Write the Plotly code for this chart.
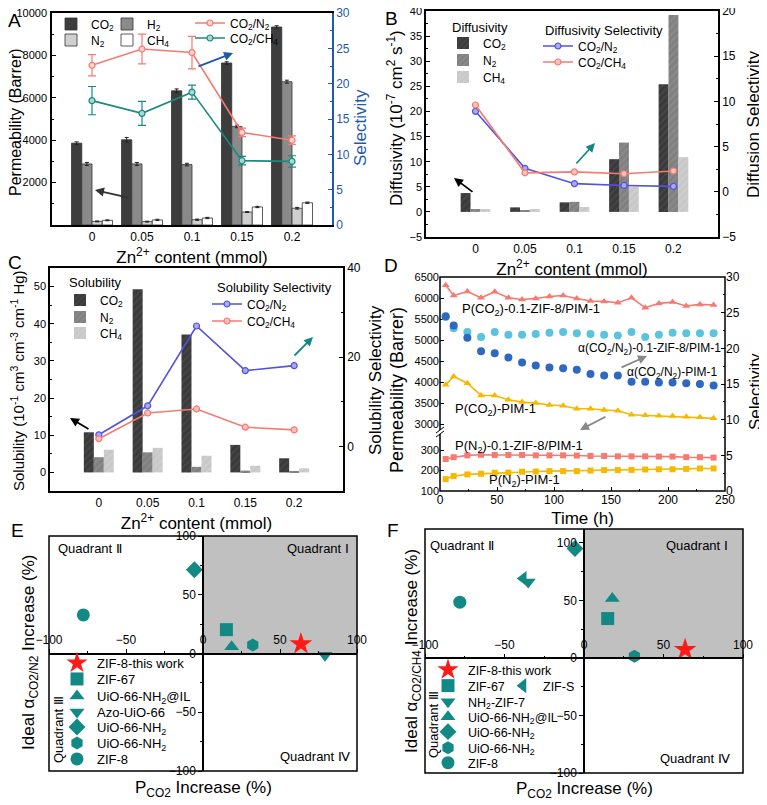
import plotly.graph_objects as go

# target canvas is 767x805; the page body adds an 8 px margin, so the figure
# itself is 8 px smaller and every pixel position is shifted by that margin
W, H = 767, 805
PAD = 8
FW, FH = W - PAD, H - PAD
FONT = "Arial, Liberation Sans, sans-serif"


def fx(px):
    return (px - PAD) / FW


def fy(py):
    return 1 - (py - PAD) / FH


# ---------------- data ----------------
zn = ["0", "0.05", "0.1", "0.15", "0.2"]

# A: permeability (Barrer) and ideal selectivity
perm_co2 = [3860, 4020, 6330, 7640, 9340]
perm_h2 = [2880, 2880, 2850, 4650, 6760]
perm_n2 = [170, 160, 250, 610, 790]
perm_ch4 = [220, 240, 330, 850, 1050]
perm_co2_err = [60, 110, 90, 60, 60]
perm_h2_err = [70, 70, 60, 60, 70]
perm_n2_err = [20, 20, 30, 20, 40]
perm_ch4_err = [20, 30, 30, 30, 30]
sel_co2_n2 = [22.6, 24.9, 24.4, 13.1, 12.0]
sel_co2_n2_err = [1.5, 2.1, 2.3, 0.6, 0.6]
sel_co2_ch4 = [17.6, 15.8, 18.8, 9.1, 9.0]
sel_co2_ch4_err = [2.0, 1.7, 1.0, 0.6, 0.8]

# B: diffusivity and diffusion selectivity
dif_co2 = [3.75, 0.9, 1.9, 10.5, 25.4]
dif_n2 = [0.57, 0.3, 2.0, 13.8, 39.2]
dif_ch4 = [0.57, 0.57, 0.97, 5.0, 10.9]
dsel_co2_n2 = [8.9, 2.6, 0.9, 0.7, 0.6]
dsel_co2_ch4 = [9.6, 2.1, 2.2, 2.0, 2.3]

# C: solubility and solubility selectivity
sol_co2 = [10.8, 49.3, 37.1, 7.4, 3.8]
sol_n2 = [4.1, 5.4, 1.5, 0.5, 0.4]
sol_ch4 = [6.1, 6.6, 4.5, 1.8, 1.1]
ssel_co2_n2 = [2.6, 9.1, 27.0, 17.0, 18.1]
ssel_co2_ch4 = [1.7, 7.5, 8.4, 4.3, 3.7]

# D: long-term test
hours = [5, 12, 24, 36, 48, 60, 72, 84, 96, 108, 120, 132, 144, 156, 168, 180, 192, 204, 216, 228, 240]
p_co2_zif = [6304, 6060, 6154, 6005, 6147, 6005, 5966, 5990, 6037, 6060, 5990,
             5927, 5919, 5888, 6005, 5770, 5872, 5903, 5809, 5848, 5833]
p_co2_pim = [3933, 4130, 3972, 3680, 3680, 3577, 3522, 3498, 3451, 3435, 3364,
             3364, 3332, 3317, 3222, 3207, 3199, 3191, 3175, 3159, 3135]
p_n2_zif = [256, 265, 274, 277, 276, 276, 276, 274, 274, 274, 273,
            271, 271, 269, 269, 269, 268, 268, 265, 265, 263]
p_n2_pim = [158, 173, 181, 184, 189, 190, 194, 195, 197, 197, 197,
            200, 202, 202, 203, 205, 206, 206, 208, 210, 210]
a_zif = [24.4, 22.8, 22.3, 21.6, 22.3, 21.9, 21.9, 22.0, 22.2, 22.3, 22.1,
         22.0, 21.9, 21.8, 22.3, 21.6, 21.9, 22.2, 22.1, 22.1, 22.1]
a_pim = [24.5, 23.2, 21.5, 19.6, 19.3, 18.7, 18.0, 17.6, 17.3, 17.2, 17.0,
         16.4, 16.2, 16.2, 15.3, 15.3, 15.2, 15.2, 15.1, 15.0, 14.8]

# E / F: quadrant comparison
e_names = ["ZIF-8-this work", "ZIF-67", "UiO-66-NH<sub>2</sub>@IL", "Azo-UiO-66",
           "UiO-66-NH<sub>2</sub>", "UiO-66-NH<sub>2</sub>", "ZIF-8"]
e_symbols = ["star", "square", "triangle-up", "triangle-down", "diamond", "hexagon", "circle"]
e_p = [63.6, 15.2, 18.6, 79.2, -5.6, 32.3, -77.7]
e_a = [8.1, 20.3, 5.8, -1.5, 71.3, 7.2, 32.8]

f_names = ["ZIF-8-this work", "ZIF-67", "ZIF-S", "NH<sub>2</sub>-ZIF-7", "UiO-66-NH<sub>2</sub>@IL",
           "UiO-66-NH<sub>2</sub>", "UiO-66-NH<sub>2</sub>", "ZIF-8"]
f_symbols = ["star", "square", "triangle-left", "triangle-down", "triangle-up", "diamond", "hexagon", "circle"]
f_p = [63.6, 14.9, -38.2, -35.1, 17.8, -5.7, 31.7, -78.1]
f_a = [7.2, 34.2, 69.0, 66.0, 51.6, 95.0, 1.4, 48.4]

# ---------------- styling ----------------
RED = "#f47a72"
TEAL = "#1a8a80"
BLUE_AX = "#1f5aa6"
BLUE = "#5252e0"
MTEAL = "#138985"
GOLD = "#f6b800"
DBLUE = "#2e68c0"
CYAN = "#5cc3de"

fig = go.Figure()
legends = {}


def leg(mx, my, size=12):
    name = "legend" if not legends else f"legend{len(legends) + 1}"
    legends[name] = dict(
        x=fx(mx - 20), y=fy(my), xanchor="left", yanchor="middle",
        bgcolor="rgba(0,0,0,0)", borderwidth=0,
        font=dict(size=size, family=FONT, color="black"),
    )
    return name


def bar(x, y, name, color, xa, ya, width, offset, err=None, hatch=None, lx=0, ly=0):
    marker = dict(color=color, line=dict(color="#333333", width=0.8))
    if hatch:
        marker = dict(color=color, line=dict(width=0),
                      pattern=dict(shape="/", fgcolor=hatch, size=5, solidity=0.3))
    fig.add_trace(go.Bar(
        x=x, y=y, name=name, marker=marker, xaxis=xa, yaxis=ya,
        width=width, offset=offset, legend=leg(lx, ly),
        error_y=dict(type="data", array=err, color="#222222", thickness=1, width=2) if err else None,
    ))


def line(x, y, name, color, xa, ya, fill, lx, ly, err=None):
    fig.add_trace(go.Scatter(
        x=x, y=y, name=name, mode="lines+markers", xaxis=xa, yaxis=ya,
        line=dict(color=color, width=1.6),
        marker=dict(symbol="circle", size=6, color=fill, line=dict(color=color, width=1.2)),
        legend=leg(lx, ly),
        error_y=dict(type="data", array=err, color=color, thickness=1.2, width=4) if err else None,
    ))


# ---- A ----
bw_a = 0.205
bar(zn, perm_co2, "CO<sub>2</sub>", "#3d3d3d", "x", "y", bw_a, -2 * bw_a, perm_co2_err, lx=71, ly=24)
bar(zn, perm_h2, "H<sub>2</sub>", "#8a8a8a", "x", "y", bw_a, -bw_a, perm_h2_err, lx=127, ly=24)
bar(zn, perm_n2, "N<sub>2</sub>", "#cfcfcf", "x", "y", bw_a, 0, perm_n2_err, lx=71, ly=40)
bar(zn, perm_ch4, "CH<sub>4</sub>", "#ffffff", "x", "y", bw_a, bw_a, perm_ch4_err, lx=127, ly=40)
line(zn, sel_co2_n2, "CO<sub>2</sub>/N<sub>2</sub>", RED, "x", "y2", "#fbd3cf", 210, 23, sel_co2_n2_err)
line(zn, sel_co2_ch4, "CO<sub>2</sub>/CH<sub>4</sub>", TEAL, "x", "y2", "#a8d8d2", 210, 38, sel_co2_ch4_err)

# ---- B ----
bw_b = 0.2
bar(zn, dif_co2, "CO<sub>2</sub>", "#3a3a3a", "x2", "y3", bw_b, -1.5 * bw_b, hatch="#555555", lx=463, ly=43)
bar(zn, dif_n2, "N<sub>2</sub>", "#808080", "x2", "y3", bw_b, -0.5 * bw_b, hatch="#999999", lx=463, ly=60)
bar(zn, dif_ch4, "CH<sub>4</sub>", "#c8c8c8", "x2", "y3", bw_b, 0.5 * bw_b, hatch="#d8d8d8", lx=463, ly=77)
line(zn, dsel_co2_n2, "CO<sub>2</sub>/N<sub>2</sub>", BLUE, "x2", "y4", "#a9a9f2", 558, 46)
line(zn, dsel_co2_ch4, "CO<sub>2</sub>/CH<sub>4</sub>", RED, "x2", "y4", "#fbc0bb", 558, 62)

# ---- C ----
bw_c = 0.205
bar(zn, sol_co2, "CO<sub>2</sub>", "#3a3a3a", "x3", "y5", bw_c, -1.5 * bw_c, hatch="#555555", lx=80, ly=300)
bar(zn, sol_n2, "N<sub>2</sub>", "#808080", "x3", "y5", bw_c, -0.5 * bw_c, hatch="#999999", lx=80, ly=317)
bar(zn, sol_ch4, "CH<sub>4</sub>", "#c8c8c8", "x3", "y5", bw_c, 0.5 * bw_c, hatch="#d8d8d8", lx=80, ly=333)
line(zn, ssel_co2_n2, "CO<sub>2</sub>/N<sub>2</sub>", BLUE, "x3", "y6", "#a9a9f2", 227, 304)
line(zn, ssel_co2_ch4, "CO<sub>2</sub>/CH<sub>4</sub>", RED, "x3", "y6", "#fbc0bb", 227, 321)


# ---- D ----
def dtrace(y, color, symbol, ya, mode="lines+markers", size=6):
    fig.add_trace(go.Scatter(
        x=hours, y=y, mode=mode, xaxis="x4", yaxis=ya, showlegend=False,
        line=dict(color=color, width=1.6),
        marker=dict(symbol=symbol, size=size, color=color),
    ))


dtrace(p_co2_zif, RED, "triangle-up", "y8", size=7)
dtrace(p_co2_pim, GOLD, "triangle-up", "y8", size=7)
dtrace(p_n2_zif, RED, "square", "y7")
dtrace(p_n2_pim, GOLD, "square", "y7")
dtrace(a_zif, CYAN, "circle", "y9", mode="markers", size=8)
dtrace(a_pim, DBLUE, "circle", "y9", mode="markers", size=8)

# ---- E / F ----
e_pos = [(77, 663), (77, 679), (77, 696), (77, 712), (77, 727), (77, 743), (77, 759)]
for name, sym, xv, yv, (lx, ly) in zip(e_names, e_symbols, e_p, e_a, e_pos):
    red = sym == "star"
    fig.add_trace(go.Scatter(
        x=[xv], y=[yv], name=name, mode="markers", xaxis="x5", yaxis="y10",
        marker=dict(symbol=sym, size=17 if red else 13, color="#ff1a1a" if red else MTEAL),
        legend=leg(lx, ly, 13),
    ))

f_pos = [(448, 670), (448, 686), (523, 686), (448, 702), (448, 717), (448, 732), (448, 748), (448, 763)]
for name, sym, xv, yv, (lx, ly) in zip(f_names, f_symbols, f_p, f_a, f_pos):
    red = sym == "star"
    fig.add_trace(go.Scatter(
        x=[xv], y=[yv], name=name, mode="markers", xaxis="x6", yaxis="y11",
        marker=dict(symbol=sym, size=17 if red else 13, color="#ff1a1a" if red else MTEAL),
        legend=leg(lx, ly, 12.5),
    ))

# ---------------- axes ----------------
tick_font = dict(size=12, family=FONT, color="black")
left_font = dict(size=11, family=FONT, color="black")
title_font = dict(size=17, family=FONT, color="black")
base = dict(showgrid=False, zeroline=False, showline=True, linecolor="black", linewidth=1.5,
            ticks="inside", ticklen=4, tickcolor="black", tickfont=tick_font, automargin=False,
            ticklabeloverflow="allow")
cat_x = dict(base, type="category", ticks="", mirror=True,
             title=dict(text="Zn<sup>2+</sup> content (mmol)", font=title_font, standoff=8))


def minor(step, color="black"):
    return dict(ticks="inside", ticklen=2, dtick=step, tickcolor=color)


fig.update_layout(
    xaxis=dict(cat_x, domain=[fx(52), fx(332)], anchor="y", range=[-0.8, 4.8]),
    yaxis=dict(base, domain=[fy(225), fy(13)], anchor="x", range=[0, 10000],
               tickvals=[2000, 4000, 6000, 8000, 10000], ticktext=["2000", "4000", "6000", "8000", "10000"],
               tickfont=left_font, ticklabelstandoff=1, minor=minor(1000)),
    yaxis2=dict(base, overlaying="y", anchor="x", side="right", range=[0, 30], dtick=5,
                linecolor=BLUE_AX, tickcolor=BLUE_AX, tickfont=dict(tick_font, color=BLUE_AX),
                minor=minor(2.5, BLUE_AX)),

    xaxis2=dict(cat_x, domain=[fx(426), fx(718)], anchor="y3", range=[-1, 4.9]),
    yaxis3=dict(base, domain=[fy(237), fy(11)], anchor="x2", range=[-5, 40], dtick=5,
                tickfont=left_font, minor=minor(2.5)),
    yaxis4=dict(base, overlaying="y3", anchor="x2", side="right", range=[-5, 20], dtick=5,
                minor=minor(2.5)),

    xaxis3=dict(cat_x, domain=[fx(50), fx(343)], anchor="y5", range=[-1, 5]),
    yaxis5=dict(base, domain=[fy(491), fy(268)], anchor="x3", range=[-5, 55], dtick=10,
                tickfont=left_font, minor=minor(5)),
    yaxis6=dict(base, overlaying="y5", anchor="x3", side="right", range=[-10, 40],
                tickvals=[0, 20, 40], minor=minor(10)),

    xaxis4=dict(base, domain=[fx(440), fx(725)], anchor="y7", range=[0, 250], dtick=50,
                showline=False, minor=minor(25),
                title=dict(text="Time (h)", font=title_font, standoff=6)),
    yaxis7=dict(base, domain=[fy(491), fy(432)], anchor="x4", range=[100, 388],
                tickvals=[100, 200, 300], showline=False, tickfont=left_font),
    yaxis8=dict(base, domain=[fy(432), fy(277)], anchor="x4", range=[2810, 6500],
                tickvals=[3000, 3500, 4000, 4500, 5000, 5500, 6000, 6500], showline=False,
                tickfont=left_font),
    yaxis9=dict(base, domain=[fy(491), fy(277)], anchor="x4", side="right", range=[0, 30],
                dtick=5, showline=False, minor=minor(2.5)),
)

quad = dict(base, ticks="outside", ticklen=4, linewidth=1.5, dtick=50,
            minor=dict(ticks="outside", ticklen=2, dtick=25, tickcolor="black"))
fig.update_layout(
    xaxis5=dict(quad, domain=[fx(49), fx(357)], anchor="free", position=fy(653.5),
                side="top", range=[-100, 100]),
    yaxis10=dict(quad, domain=[fy(771), fy(536)], anchor="free", position=fx(203),
                 range=[-100, 100]),
    xaxis6=dict(quad, domain=[fx(425), fx(743)], anchor="free", position=fy(658.3),
                side="top", range=[-100, 100]),
    yaxis11=dict(quad, domain=[fy(773), fy(529)], anchor="free", position=fx(584),
                 range=[-100, 112], tickvals=[-100, -50, 0, 50, 100]),
)

# ---------------- shapes ----------------
shapes = [
    dict(type="rect", xref="x5", yref="y10", x0=0, x1=100, y0=0, y1=100,
         fillcolor="#c0c0c0", line=dict(width=0), layer="below"),
    dict(type="rect", xref="x6", yref="y11", x0=0, x1=100, y0=0, y1=112,
         fillcolor="#c0c0c0", line=dict(width=0), layer="below"),
    dict(type="rect", xref="x5 domain", yref="y10 domain", x0=0, x1=1, y0=0, y1=1,
         line=dict(color="black", width=1.5)),
    dict(type="rect", xref="x6 domain", yref="y11 domain", x0=0, x1=1, y0=0, y1=1,
         line=dict(color="black", width=1.5)),
    dict(type="rect", xref="x4 domain", yref="y9 domain", x0=0, x1=1, y0=0, y1=1,
         line=dict(color="black", width=1.5)),
    # axis break on D
    dict(type="rect", xref="paper", yref="paper", x0=fx(437), x1=fx(443), y0=fy(434), y1=fy(430),
         fillcolor="white", line=dict(width=0)),
    dict(type="line", xref="paper", yref="paper", x0=fx(436), x1=fx(444), y0=fy(437), y1=fy(431),
         line=dict(color="black", width=1)),
    dict(type="line", xref="paper", yref="paper", x0=fx(436), x1=fx(444), y0=fy(433), y1=fy(427),
         line=dict(color="black", width=1)),
]

# ---------------- annotations ----------------
ann = []


def text(t, px, py, size=13, angle=0, anchor="center", color="black"):
    ann.append(dict(text=t, x=fx(px), y=fy(py), xref="paper", yref="paper", showarrow=False,
                    xanchor=anchor, yanchor="middle", textangle=angle,
                    font=dict(size=size, family=FONT, color=color)))


def arrow(hx, hy, ax, ay, color):
    ann.append(dict(text="", x=fx(hx), y=fy(hy), xref="paper", yref="paper", showarrow=True,
                    ax=ax, ay=ay, arrowhead=2, arrowsize=1, arrowwidth=1.8, arrowcolor=color))


for letter, px, py in [("A", 14, 20), ("B", 391, 19), ("C", 15, 263), ("D", 391, 265),
                       ("E", 17, 530), ("F", 393, 530)]:
    text(letter, px, py, size=19)

# y-axis titles
text("Permeability (Barrer)", 15, 122, size=16, angle=-90)
text("Selectivity", 361, 128, size=17, angle=-90, color=BLUE_AX)
text("Diffusivity (10<sup>-7</sup> cm<sup>2</sup> s<sup>-1</sup>)", 395, 118, size=17, angle=-90)
text("Diffusion Selectivity", 753, 124, size=17, angle=-90)
text("Solubility (10<sup>-1</sup> cm<sup>3</sup> cm<sup>-3</sup> cm<sup>-1</sup> Hg)", 18, 381,
     size=15, angle=-90)
text("Solubility Selectivity", 375, 380, size=17, angle=-90)
text("Permeability (Barrer)", 397, 390, size=18, angle=-90)
text("Selectivity", 755, 392, size=17, angle=-90)

# legend headings
text("Diffusivity", 450, 27, anchor="left")
text("Diffusivity Selectivity", 543, 30, anchor="left")
text("Solubility", 67, 283, anchor="left")
text("Solubility Selectivity", 215, 288, anchor="left")

# curve labels on D
text("P(CO<sub>2</sub>)-0.1-ZIF-8/PIM-1", 460, 309, anchor="left")
text("α(CO<sub>2</sub>/N<sub>2</sub>)-0.1-ZIF-8/PIM-1", 723, 349, size=12, anchor="right")
text("α(CO<sub>2</sub>/N<sub>2</sub>)-PIM-1", 720, 373, size=12, anchor="right")
text("P(CO<sub>2</sub>)-PIM-1", 453, 409, anchor="left")
text("P(N<sub>2</sub>)-0.1-ZIF-8/PIM-1", 453, 446, anchor="left")
text("P(N<sub>2</sub>)-PIM-1", 487, 480, anchor="left")

# quadrant panels
text("Quadrant Ⅱ", 90, 548)
text("Quadrant Ⅰ", 318, 548)
text("Quadrant Ⅳ", 315, 756)
text("Quadrant Ⅲ", 58, 730, angle=-90)
text("P<sub>CO2</sub> Increase (%)", 203, 789, size=17)
text("Ideal α<sub>CO2/N2</sub> Increase (%)", 30, 653, size=17, angle=-90)

text("Quadrant Ⅱ", 462, 545)
text("Quadrant Ⅰ", 697, 545)
text("Quadrant Ⅳ", 695, 758)
text("Quadrant Ⅲ", 433, 725, angle=-90)
text("P<sub>CO2</sub> Increase (%)", 584, 790, size=17)
text("Ideal α<sub>CO2/CH4</sub> Increase (%)", 413, 651, size=17, angle=-90)

arrow(95, 190, 35, 8, "#333333")
arrow(233, 53, -36, 14, BLUE_AX)
arrow(454, 178, 20, 15, "black")
arrow(595, 143, -20, 22, MTEAL)
arrow(70, 418, 20, 12, "black")
arrow(313, 337, -20, 20, MTEAL)
arrow(647, 356, -27, 12, "#888888")
arrow(580, 430, 27, -14, "#888888")

fig.update_layout(
    width=FW, height=FH,
    margin=dict(l=0, r=0, t=0, b=0, autoexpand=False),
    paper_bgcolor="white", plot_bgcolor="rgba(0,0,0,0)",
    font=dict(family=FONT, color="black"),
    barmode="group",
    shapes=shapes, annotations=ann,
    **legends,
)

fig.write_html("out.html")
